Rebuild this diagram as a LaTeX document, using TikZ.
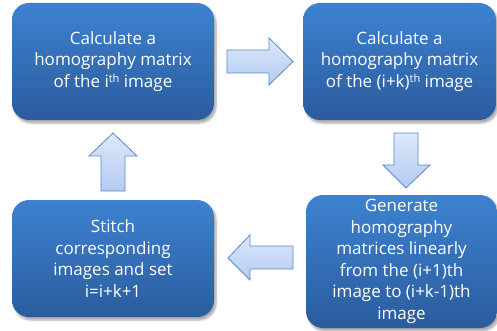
\documentclass[tikz,border=0pt]{standalone}
\usepackage{fontspec}
\setmainfont{Open Sans}
\usetikzlibrary{shadows.blur}
\definecolor{boxtop}{HTML}{3D82D0}
\definecolor{boxbot}{HTML}{2B5C9E}
\definecolor{arrtop}{HTML}{DDE8FB}
\definecolor{arrbot}{HTML}{B4CBF2}
\definecolor{arredge}{HTML}{5A88C8}
\newcommand{\supth}{\raisebox{0.55ex}{\fontsize{11}{11}\selectfont th}}
\tikzset{
  stepbox/.style={rectangle, rounded corners=17pt, top color=boxtop, bottom color=boxbot,
    draw=none, text=white, align=center, inner sep=0pt,
    font=\fontsize{17}{21.5}\selectfont,
    blur shadow={shadow xshift=2pt, shadow yshift=-3pt, shadow blur steps=6, shadow opacity=35}},
  blockarrow/.style={draw=arredge, line width=0.8pt, top color=arrtop, bottom color=arrbot, line join=miter}
}
\begin{document}
\begin{tikzpicture}[x=1pt,y=-1pt]
\useasboundingbox (0,0) rectangle (497,331);
\node[stepbox, minimum width=202pt, minimum height=117pt] (b1) at (113,61.5)
  {Calculate a\\homography matrix\\of the i\supth{} image};
\node[stepbox, minimum width=193pt, minimum height=117pt] (b2) at (399.5,61.5)
  {Calculate a\\homography matrix\\of the (i+k)\supth{} image};
\node[stepbox, minimum width=191pt, minimum height=133pt] (b4) at (401.5,261.5)
  {Generate\\homography\\matrices linearly\\from the (i+1)th\\image to (i+k-1)th\\image};
\node[stepbox, minimum width=202pt, minimum height=117pt] (b3) at (113,258.5)
  {Stitch\\corresponding\\images and set\\i=i+k+1};
% right arrow (b1 -> b2)
\draw[blockarrow] (227,50) -- (269,50) -- (269,38) -- (293,61.5) -- (269,85) -- (269,73) -- (227,73) -- cycle;
% down arrow (b2 -> b4)
\draw[blockarrow] (394,133) -- (418,133) -- (418,165) -- (430,165) -- (406,188) -- (383,165) -- (394,165) -- cycle;
% left arrow (b4 -> b3)
\draw[blockarrow] (293,246) -- (250,246) -- (250,235) -- (228,258) -- (250,280) -- (250,269) -- (293,269) -- cycle;
% up arrow (b3 -> b1)
\draw[blockarrow] (101,191) -- (101,156) -- (89,156) -- (113,133) -- (137,156) -- (125,156) -- (125,191) -- cycle;
\end{tikzpicture}
\end{document}
